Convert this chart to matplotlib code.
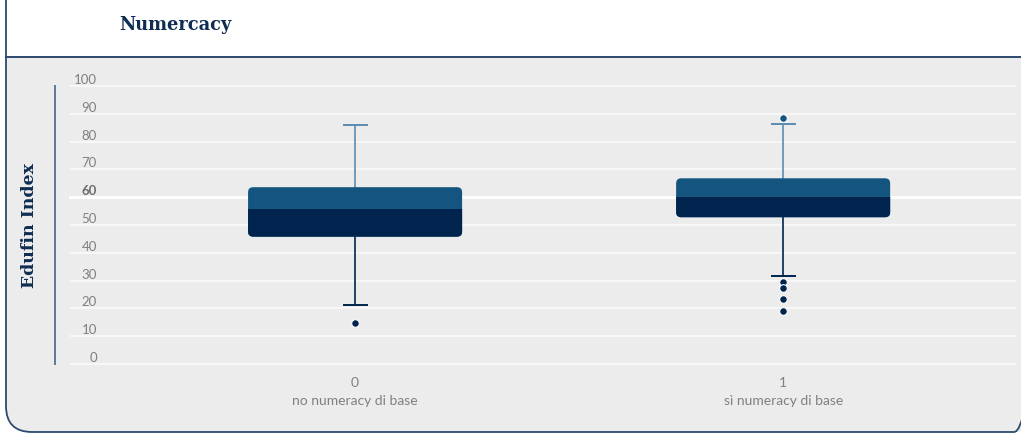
"""
Numeracy vs Edufin Index — two-tone box plot on a rounded card.
"""

import matplotlib.pyplot as plt
from matplotlib.patches import FancyBboxPatch, Rectangle

# ── data ──────────────────────────────────────────────────────
categories = ['0', '1']
category_names = ['no numeracy di base', 'sì numeracy di base']
q1 = [45.8, 52.8]
median = [55.6, 60.0]
q3 = [63.6, 66.8]
whisker_lo = [21.1, 31.7]
whisker_hi = [86.0, 86.5]
outliers = [[14.6], [88.6, 29.5, 27.2, 23.3, 19.2]]
yticks = [0, 10, 20, 30, 40, 50, 60, 70, 80, 90, 100]

# ── palette ───────────────────────────────────────────────────
NAVY = '#0f2d52'
BORDER = '#2c4a6e'
LIGHT_BLUE = '#14557f'
DARK_BLUE = '#00244d'
WHISKER_UP = '#5b8bb3'
BODY = '#ececec'
TICK = '#808080'

W, H = 1021, 433
fig = plt.figure(figsize=(W / 100, H / 100), dpi=100, facecolor='white')

# background layer in pixel coordinates
bg = fig.add_axes([0, 0, 1, 1])
bg.set_xlim(0, W)
bg.set_ylim(H, 0)
bg.axis('off')

card_box = dict(boxstyle='round,pad=0,rounding_size=26')
card = FancyBboxPatch((6, -40), 1034, 472, **card_box,
                      facecolor='white', edgecolor='none', zorder=1)
bg.add_patch(card)
body = Rectangle((0, 57), W, H, facecolor=BODY, edgecolor='none', zorder=2)
bg.add_patch(body)
body.set_clip_path(card)
outline = FancyBboxPatch((6, -40), 1034, 472, **card_box,
                         facecolor='none', edgecolor=BORDER, lw=1.3, zorder=4)
bg.add_patch(outline)
bg.plot([6, W], [57, 57], color=BORDER, lw=1.4, zorder=5)

bg.text(119, 25, 'Numercacy', fontsize=12.8, fontweight='bold',
        family='DejaVu Serif', color=NAVY, ha='left', va='center', zorder=6)
bg.text(30, 225, 'Edufin Index', fontsize=12.5, fontweight='bold',
        family='DejaVu Serif', color=NAVY, rotation=90,
        ha='center', va='center', zorder=6)

# ── main plot ─────────────────────────────────────────────────
px_per_unit = 2.78
ax_left, ax_right = 70, 1016
y_bottom_px = 364 + 4 * px_per_unit
y_top_px = 86 - 6 * px_per_unit
ax = fig.add_axes([ax_left / W, 1 - y_bottom_px / H,
                   (ax_right - ax_left) / W, (y_bottom_px - y_top_px) / H])
ax.set_facecolor('none')
ax.set_xlim(-0.666, 1.544)
ax.set_ylim(-4, 106)
for s in ax.spines.values():
    s.set_visible(False)
ax.set_xticks([])
ax.set_yticks([])

for v in yticks:
    if v == 60:
        ax.axhline(v, xmin=0, xmax=1.006, color='white', lw=2.2, zorder=1,
                   clip_on=False)
    else:
        ax.axhline(v, color='#f7f7f7', lw=1.5, zorder=1)
    ax.annotate(str(v), xy=(0.0285, v), xycoords=ax.get_yaxis_transform(),
                xytext=(0, 2), textcoords='offset pixels',
                ha='right', va='baseline', fontsize=9.5, family='Lato',
                color='#6e6e6e' if v == 60 else TICK,
                fontweight='bold' if v == 60 else 'normal')

# vertical axis line left of the plot
ax.plot([-0.0159, -0.0159], [0, 100], transform=ax.get_yaxis_transform(),
        color='#5f7896', lw=1.4, clip_on=False)

box_w = 0.5
cap_w = 0.054
for i in range(len(categories)):
    x0 = i - box_w / 2
    # whiskers
    ax.plot([i, i], [q3[i], whisker_hi[i]], color=WHISKER_UP, lw=1.2, zorder=2)
    ax.plot([i - cap_w / 2, i + cap_w / 2], [whisker_hi[i]] * 2,
            color=WHISKER_UP, lw=1.4, zorder=2)
    ax.plot([i, i], [whisker_lo[i], q1[i]], color=DARK_BLUE, lw=1.2, zorder=2)
    ax.plot([i - cap_w / 2, i + cap_w / 2], [whisker_lo[i]] * 2,
            color=DARK_BLUE, lw=1.4, zorder=2)
    # box: light full box, dark lower part clipped at the median
    r_x = 0.012
    aspect = (5 / px_per_unit) / r_x
    top = FancyBboxPatch((x0, q1[i]), box_w, q3[i] - q1[i],
                         boxstyle=f'round,pad=0,rounding_size={r_x}',
                         mutation_aspect=aspect, facecolor=LIGHT_BLUE,
                         edgecolor='none', zorder=3)
    ax.add_patch(top)
    low = FancyBboxPatch((x0, q1[i]), box_w, q3[i] - q1[i],
                         boxstyle=f'round,pad=0,rounding_size={r_x}',
                         mutation_aspect=aspect, facecolor=DARK_BLUE,
                         edgecolor='none', zorder=4)
    ax.add_patch(low)
    clip = Rectangle((x0 - 0.01, q1[i] - 1), box_w + 0.02, median[i] - q1[i] + 1,
                     transform=ax.transData)
    low.set_clip_path(clip)
    # outliers
    for o in outliers[i]:
        c = LIGHT_BLUE if o > median[i] else DARK_BLUE
        ax.plot(i, o, 'o', ms=5.5, color=c, mec='white', mew=0.8, zorder=5)
    # category labels
    ax.text(i, -4.6, categories[i], ha='center', va='top', fontsize=10,
            family='Lato', color=TICK, clip_on=False)
    ax.text(i, -11.2, category_names[i], ha='center', va='top', fontsize=10,
            family='Lato', color=TICK, clip_on=False)

fig.savefig('out.png', dpi=100, facecolor='white')
